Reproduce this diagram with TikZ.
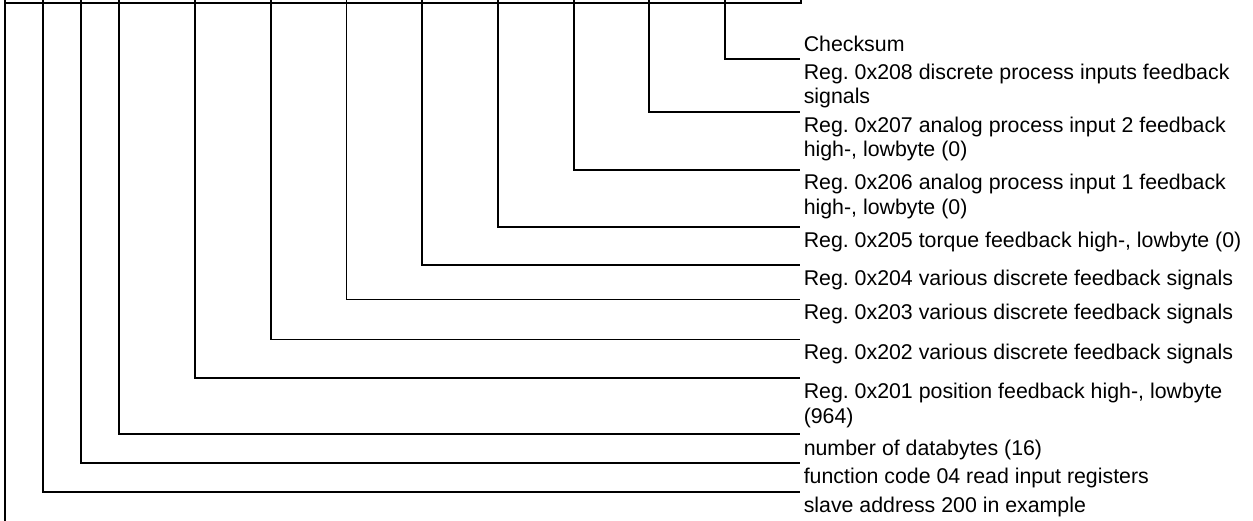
\documentclass[tikz,border=0pt]{standalone}
\usepackage{fontspec}
\setmainfont{Liberation Sans}
\frenchspacing
\begin{document}
\begin{tikzpicture}[x=0.75pt,y=-0.75pt,
  wire/.style={line width=1.3pt},
  lbl/.style={anchor=base west, inner sep=0pt, font=\fontsize{16}{18.4}\selectfont}]
\useasboundingbox (0,0) rectangle (1253,521);
% frame
\coordinate (ftop) at (5,0);
\coordinate (fbot) at (5,521);
\coordinate (tl) at (5,2.7);
\coordinate (tr) at (801,2.7);
\coordinate (tt) at (801,0);
\draw[wire] (ftop) -- (fbot);
\draw[wire] (tl) -- (tr) -- (tt);
% connectors: top point and right end
\coordinate (t1) at (725,0);   \coordinate (e1) at (800,59);
\coordinate (t2) at (649,0);   \coordinate (e2) at (800,112);
\coordinate (t3) at (574,0);   \coordinate (e3) at (800,170);
\coordinate (t4) at (498,0);   \coordinate (e4) at (800,227);
\coordinate (t5) at (422,0);   \coordinate (e5) at (800,265);
\coordinate (t6) at (346.5,0); \coordinate (e6) at (800,299.5);
\coordinate (t7) at (271,0);   \coordinate (e7) at (800,339.5);
\coordinate (t8) at (195,0);   \coordinate (e8) at (800,378);
\coordinate (t9) at (119,0);   \coordinate (e9) at (800,434);
\coordinate (t10) at (81,0);   \coordinate (e10) at (800,463);
\coordinate (t11) at (43,0);   \coordinate (e11) at (800,492);
\foreach \i in {1,...,11} { \draw[wire] (t\i) |- (e\i); }
% labels
\node[lbl] (chk) at (803.5,51) {Checksum};
\node[lbl] (r208) at (803.5,79) {\begin{tabular}[t]{@{}l@{}}Reg. 0x208 discrete process inputs feedback\\signals\end{tabular}};
\node[lbl] (r207) at (803.5,132) {\begin{tabular}[t]{@{}l@{}}Reg. 0x207 analog process input 2 feedback\\high-, lowbyte (0)\end{tabular}};
\node[lbl] (r206) at (803.5,189.5) {\begin{tabular}[t]{@{}l@{}}Reg. 0x206 analog process input 1 feedback\\high-, lowbyte (0)\end{tabular}};
\node[lbl] (r205) at (803.5,247) {Reg. 0x205 torque feedback high-, lowbyte (0)};
\node[lbl] (r204) at (803.5,285) {Reg. 0x204 various discrete feedback signals};
\node[lbl] (r203) at (803.5,319.5) {Reg. 0x203 various discrete feedback signals};
\node[lbl] (r202) at (803.5,359.5) {Reg. 0x202 various discrete feedback signals};
\node[lbl] (r201) at (803.5,398.5) {\begin{tabular}[t]{@{}l@{}}Reg. 0x201 position feedback high-, lowbyte\\(964)\end{tabular}};
\node[lbl] (nbytes) at (803.5,455) {number of databytes (16)};
\node[lbl] (fcode) at (803.5,483.5) {function code 04 read input registers};
\node[lbl] (slave) at (803.5,512) {slave address 200 in example};
\end{tikzpicture}
\end{document}
